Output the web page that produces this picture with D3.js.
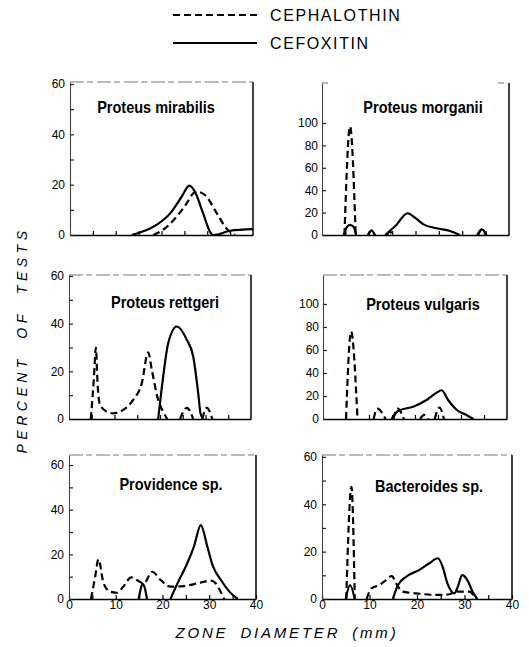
<!DOCTYPE html>
<html><head><meta charset="utf-8">
<script src="https://cdn.jsdelivr.net/npm/d3@7/dist/d3.min.js"></script>
<style>body{margin:0;background:#fff}</style>
</head><body><svg id="c" width="529" height="647"></svg>
<script>
// ---------------- DATA ----------------
const drugs = ["CEPHALOTHIN", "CEFOXITIN"];
const organisms = ["Proteus mirabilis", "Proteus morganii", "Proteus rettgeri",
                   "Proteus vulgaris", "Providence sp.", "Bacteroides sp."];
const xTickValues = [5, 10, 15, 20, 25, 30, 35];
const xTickLabels = [0, 10, 20, 30, 40];
const yTicksSixty = [0, 10, 20, 30, 40, 50, 60];
const yLabelsSixty = [0, 20, 40, 60];
const yTicksHundred = [0, 20, 40, 60, 80, 100];

// [zone diameter mm, percent of tests]; null breaks the line
const mirabilisCephalothin = [[18.2,0],[20.3,2],[23.3,7.3],[25.5,12.6],[27,16.6],[27.7,17.2],[29.5,15.9],[32.1,8.6],[34.2,2.6],[36.1,0]];
const mirabilisCefoxitin = [[13.5,0],[18.9,4],[21.9,8.6],[24.4,15.2],[26.1,19.6],[27.3,17.2],[29.1,8.6],[30.6,1.3],[31.2,0],[32.5,0.3],[35,1.7],[40,2.3]];

const morganiiCephalothin = [[4.8,0],[6,97],[7.2,0],null,[9.8,0],[10.6,4],[11.4,0],null,[13.9,0],[14.5,3],[15.1,0],null,[33.4,0],[34.2,5],[35,0]];
const morganiiCefoxitin = [[4.7,0],[5.3,7],[6,9],[6.8,7],[7.3,0],null,[9.9,0],[10.6,4],[11.3,0],null,[13.5,0],[15.9,9],[18.3,19.4],[20,15],[21.7,9.5],[24.5,6],[27.4,3.6],[29.5,0],null,[33.2,0],[34.2,5],[35.2,0]];

const rettgeriCephalothin = [[4.8,0],[5.5,18],[5.9,30],[6.3,14],[6.8,6],[8.3,3.1],[9.7,2.4],[11.9,3.8],[14.1,8],[16,15],[17.4,28],[18.2,20.6],[19.6,8],[20.7,3],[21.6,0],null,[24.4,0],[25.9,4.7],[27.3,0],null,[29.3,0],[30.3,4.7],[31.5,0]];
const rettgeriCefoxitin = [[19.6,0],[20.7,17.8],[21.8,31.8],[23.7,38.8],[25.9,33.2],[27.3,26.2],[28.4,10.8],[28.9,2.4],[29.5,0]];

const vulgarisCephalothin = [[5,0],[6.1,76],[7.5,0],null,[11,0],[11.8,9],[13.6,0],null,[15.3,0],[16.2,9],[17.6,0],null,[21.1,0],[22,3.5],[22.9,0],null,[24.3,0],[25.3,10],[26.3,0]];
const vulgarisCefoxitin = [[14.9,0],[16.4,7.2],[19.6,10.7],[22.5,16.5],[24.7,22.9],[25.8,25],[27.2,16.5],[29.1,7.8],[31.2,3.5],[32.7,0]];

const providenceCephalothin = [[4.7,0],[5.6,10],[6.3,17.8],[7.4,7],[8.8,3.3],[10.2,2.8],[11.6,5.5],[13.3,9.7],[14.5,8.5],[16,7],[17.8,12.2],[19.6,8.5],[21.7,5.5],[24.6,5.8],[27.5,7],[30.3,8.2],[31.4,7],[32.5,3],[33.2,0]];
const providenceCefoxitin = [[14.9,0],[15.8,6.7],[16.7,0],null,[21.7,0],[23.2,7],[25.3,16],[26.7,23.4],[28.2,33.1],[29.6,23.4],[30.7,15.2],[32.5,8.5],[34.3,3.3],[36.1,0]];

const bacteroidesCephalothin = [[5.1,0],[6.2,47.4],[6.9,0],null,[9.4,0],[10.4,4.5],[12.1,5.9],[13.5,8],[14.7,9.7],[15.6,6.6],[17,3.1],[19.8,2.4],[24,1.7],[26.8,2],[28.2,3.1],[31,3.1],[32.4,0]];
const bacteroidesCefoxitin = [[5,0],[5.9,5.9],[6.9,0],null,[14.9,0],[16,5.9],[17.7,9.4],[20.5,12.3],[22.6,15.1],[24.4,17.2],[25.4,13.6],[26.4,6.6],[27.9,2.4],[28.6,5.2],[29.5,10.1],[30.6,8],[31.7,3.1],[32.7,0]];

const cephalothinSeries = [mirabilisCephalothin, morganiiCephalothin, rettgeriCephalothin, vulgarisCephalothin, providenceCephalothin, bacteroidesCephalothin];
const cefoxitinSeries = [mirabilisCefoxitin, morganiiCefoxitin, rettgeriCefoxitin, vulgarisCefoxitin, providenceCefoxitin, bacteroidesCefoxitin];

// ---------------- LAYOUT ----------------
const layout = [
  {x:[70,253], y:[235,82], yTop:60.8, kind:"sixty", xLabels:false, title:[156,113]},
  {x:[322,509], y:[235,83], yTop:135.7, kind:"hundred", xLabels:false, title:[423,113]},
  {x:[69,251], y:[419,275], yTop:60.4, kind:"sixty", xLabels:false, title:[165,308]},
  {x:[323,507], y:[419,275], yTop:125.2, kind:"hundred", xLabels:false, title:[423,310]},
  {x:[69,256], y:[599,455], yTop:64.5, kind:"sixty", xLabels:true, title:[171,490]},
  {x:[322,512], y:[599,455], yTop:60.8, kind:"sixty", xLabels:true, title:[429,492]}
];

const svg = d3.select("#c");
const tickFont = "'Liberation Sans', Arial, sans-serif";

organisms.forEach((name, i) => {
  const L = layout[i];
  const x = d3.scaleLinear().domain([0, 40]).range(L.x);
  const y = d3.scaleLinear().domain([0, L.yTop]).range(L.y);
  const g = svg.append("g");

  // frame
  g.append("line").attr("x1", L.x[0]).attr("x2", L.x[1]).attr("y1", L.y[1]).attr("y2", L.y[1])
    .attr("stroke", "#777").attr("stroke-width", 1).attr("stroke-dasharray", i === 1 ? "6,170" : "14,3,6,4");
  g.append("line").attr("x1", L.x[1]).attr("x2", L.x[1]).attr("y1", L.y[1]).attr("y2", L.y[0])
    .attr("stroke", "#111").attr("stroke-width", 1.6);

  // x axis (ticks inward)
  const xAxis = d3.axisBottom(x).tickValues(L.xLabels ? [0,5,10,15,20,25,30,35,40] : xTickValues)
    .tickSizeInner(-4).tickSizeOuter(0)
    .tickFormat(d => (L.xLabels && xTickLabels.includes(d)) ? d : "");
  const gx = g.append("g").attr("transform", `translate(0,${L.y[0]})`).call(xAxis);
  gx.select(".domain").attr("stroke", "#000").attr("stroke-width", 1.6);
  gx.selectAll(".tick line").attr("stroke", "#000").attr("stroke-width", 1.2);
  gx.selectAll("text").attr("font-family", tickFont).attr("font-size", 12).attr("fill", "#000").attr("dy", "0.55em");

  // y axis (ticks inward, labels left)
  const yTicks = L.kind === "sixty" ? yTicksSixty : yTicksHundred;
  const yAxis = d3.axisLeft(y).tickValues(yTicks).tickSizeInner(-4).tickSizeOuter(0).tickPadding(L.kind === "sixty" ? 5 : 4)
    .tickFormat(d => (L.kind === "sixty" ? (yLabelsSixty.includes(d) ? d : "") : d));
  const gy = g.append("g").attr("transform", `translate(${L.x[0]},0)`).call(yAxis);
  gy.select(".domain").attr("stroke", "#444").attr("stroke-width", 1.1);
  gy.selectAll(".tick line").attr("stroke", "#222").attr("stroke-width", 1.2);
  gy.selectAll("text").attr("font-family", tickFont).attr("font-size", 12).attr("fill", "#000");

  // curves
  const line = d3.line().defined(d => d !== null).x(d => x(d[0])).y(d => y(d[1])).curve(d3.curveMonotoneX);
  g.append("path").attr("d", line(cephalothinSeries[i])).attr("fill", "none")
    .attr("stroke", "#000").attr("stroke-width", 2.2).attr("stroke-dasharray", "7,4");
  g.append("path").attr("d", line(cefoxitinSeries[i])).attr("fill", "none")
    .attr("stroke", "#000").attr("stroke-width", 2.2);

  // title (condensed bold)
  g.append("text").attr("transform", `translate(${L.title[0]},${L.title[1]}) scale(0.88,1)`)
    .attr("text-anchor", "middle")
    .attr("font-family", "'Liberation Sans', Arial, sans-serif")
    .attr("font-weight", "bold").attr("font-size", 16.5).attr("fill", "#000").text(name);
});

// legend
const legend = svg.append("g");
drugs.forEach((d, i) => {
  const yy = 15 + i * 28;
  legend.append("line").attr("x1", 173).attr("x2", 257).attr("y1", yy).attr("y2", yy)
    .attr("stroke", "#000").attr("stroke-width", 1.8).attr("stroke-dasharray", i === 0 ? "7,4" : null);
  legend.append("text").attr("x", 270).attr("y", yy + 6).attr("font-family", tickFont)
    .attr("font-size", 16).attr("letter-spacing", 1.6).attr("fill", "#000").text(d);
});

// axis titles
svg.append("text").attr("transform", "translate(27,340) rotate(-90)").attr("text-anchor", "middle")
  .attr("font-family", tickFont).attr("font-style", "italic").attr("font-size", 14)
  .attr("letter-spacing", 4.5).attr("word-spacing", 8).attr("fill", "#000").text("PERCENT OF TESTS");
svg.append("text").attr("x", 287).attr("y", 638).attr("text-anchor", "middle")
  .attr("font-family", tickFont).attr("font-style", "italic").attr("font-size", 15)
  .attr("letter-spacing", 2.8).attr("word-spacing", 5).attr("fill", "#000").text("ZONE DIAMETER (mm)");
</script></body></html>
